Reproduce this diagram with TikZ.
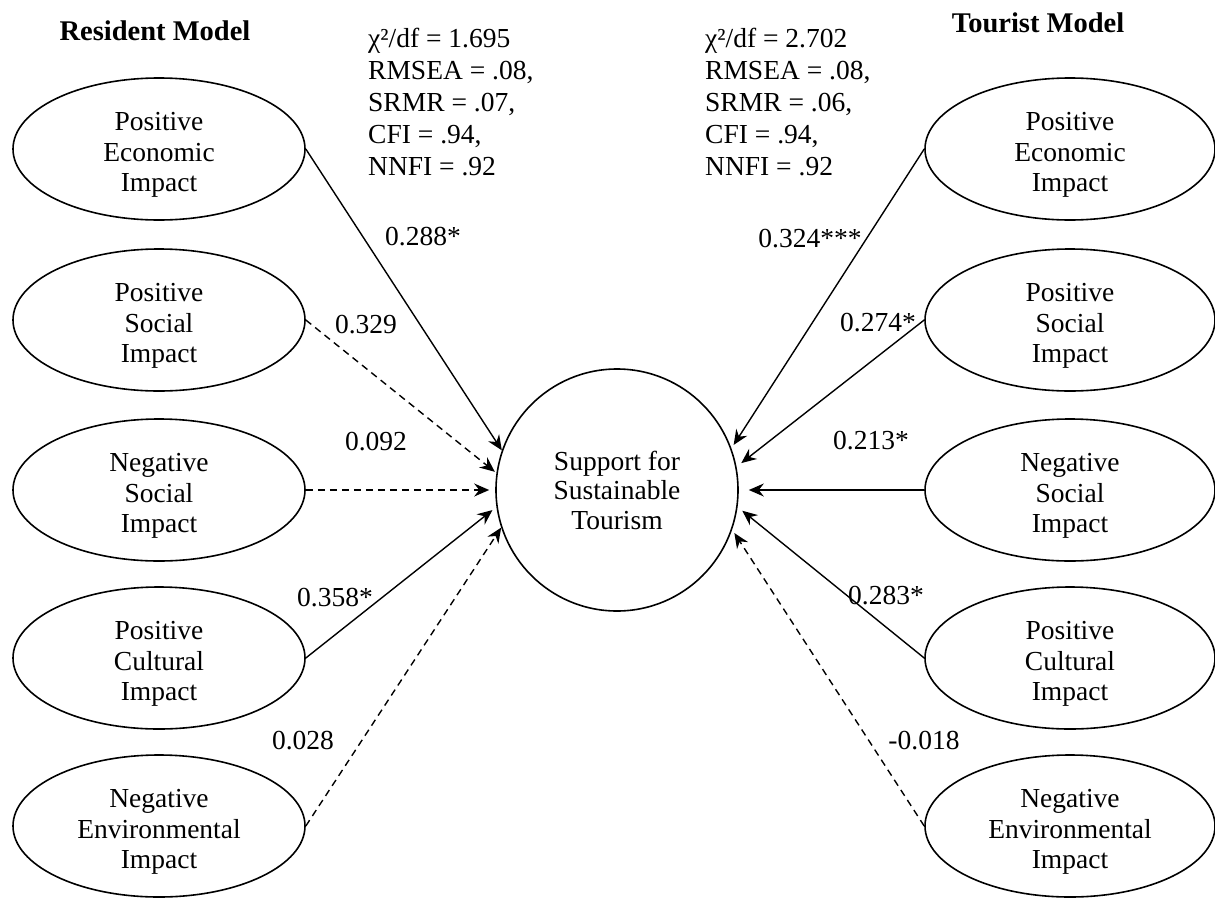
\documentclass[tikz,border=0pt]{standalone}
\usepackage{fontspec}
\setmainfont{Liberation Serif}
\usetikzlibrary{arrows.meta,shapes.geometric}
\newcommand\dgfont{\fontsize{27.5pt}{30.5pt}\selectfont}
\newcommand\liftline{\rule{0pt}{30pt}}
\begin{document}
\begin{tikzpicture}[x=1pt,y=-1pt,
  lat/.style={ellipse, draw, line width=1.6pt, minimum width=292pt, minimum height=142pt, inner sep=0pt, align=center, font=\dgfont},
  dv/.style={circle, draw, line width=1.6pt, minimum size=242pt, inner sep=0pt, align=center, font=\fontsize{27.5pt}{29.5pt}\selectfont},
  sig/.style={line width=1.4pt, -{Stealth[length=15pt,width=13pt,inset=5pt]}},
  ns/.style={sig, dash pattern=on 7pt off 5pt},
  coef/.style={anchor=base, inner sep=0pt, font=\dgfont},
  fitstat/.style={anchor=north west, align=left, inner sep=0pt, font=\fontsize{27.5pt}{32pt}\selectfont},
  title/.style={anchor=base, inner sep=0pt, font=\fontsize{28.5pt}{32pt}\selectfont\bfseries}]
\useasboundingbox (0,0) rectangle (1215,900);

% titles
\node[title] (tRes) at (155,40) {Resident Model};
\node[title] (tTou) at (1038,32) {Tourist Model};

% fit statistics
\node[fitstat] (fitRes) at (368,28) {χ²/df = 1.695\\RMSEA = .08,\\SRMR = .07,\\CFI = .94,\\NNFI = .92};
\node[fitstat] (fitTou) at (705,28) {χ²/df = 2.702\\RMSEA = .08,\\SRMR = .06,\\CFI = .94,\\NNFI = .92};

% central construct
\node[dv] (C) at (617,490) {Support for\\Sustainable\\Tourism};

% resident model
\node[lat] (L1) at (159,149) {\liftline Positive\\Economic\\Impact};
\node[lat] (L2) at (159,320) {\liftline Positive\\Social\\Impact};
\node[lat] (L3) at (159,490) {\liftline Negative\\Social\\Impact};
\node[lat] (L4) at (159,658) {\liftline Positive\\Cultural\\Impact};
\node[lat] (L5) at (159,826) {\liftline Negative\\Environmental\\Impact};

% tourist model
\node[lat, minimum width=290pt] (R1) at (1070,149) {\liftline Positive\\Economic\\Impact};
\node[lat, minimum width=290pt] (R2) at (1070,320) {\liftline Positive\\Social\\Impact};
\node[lat, minimum width=290pt] (R3) at (1070,490) {\liftline Negative\\Social\\Impact};
\node[lat, minimum width=290pt] (R4) at (1070,658) {\liftline Positive\\Cultural\\Impact};
\node[lat, minimum width=290pt] (R5) at (1070,826) {\liftline Negative\\Environmental\\Impact};

% paths, resident
\draw[sig] (L1.east) -- (C.161);
\draw[ns, shorten >=2pt] (L2.east) -- (C.172);
\draw[ns, shorten >=6pt] (L3.east) -- (C.180);
\draw[sig, shorten >=5pt] (L4.east) -- (C.188);
\draw[ns] (L5.east) -- (C.198);

% paths, tourist
\draw[sig, shorten >=4pt] (R1.west) -- (C.20);
\draw[sig, shorten >=6pt] (R2.west) -- (C.11);
\draw[sig, shorten >=10pt] (R3.west) -- (C.0);
\draw[sig, shorten >=6pt] (R4.west) -- (C.-8);
\draw[ns, shorten >=4pt] (R5.west) -- (C.-19);

% coefficients
\node[coef] (c1) at (423,245) {0.288*};
\node[coef] (c2) at (366,333) {0.329};
\node[coef] (c3) at (376,450) {0.092};
\node[coef] (c4) at (335,606) {0.358*};
\node[coef] (c5) at (303,749) {0.028};
\node[coef] (d1) at (810,247) {0.324***};
\node[coef] (d2) at (878,331) {0.274*};
\node[coef] (d3) at (871,449) {0.213*};
\node[coef] (d4) at (886,604) {0.283*};
\node[coef] (d5) at (924,749) {-0.018};
\end{tikzpicture}
\end{document}
